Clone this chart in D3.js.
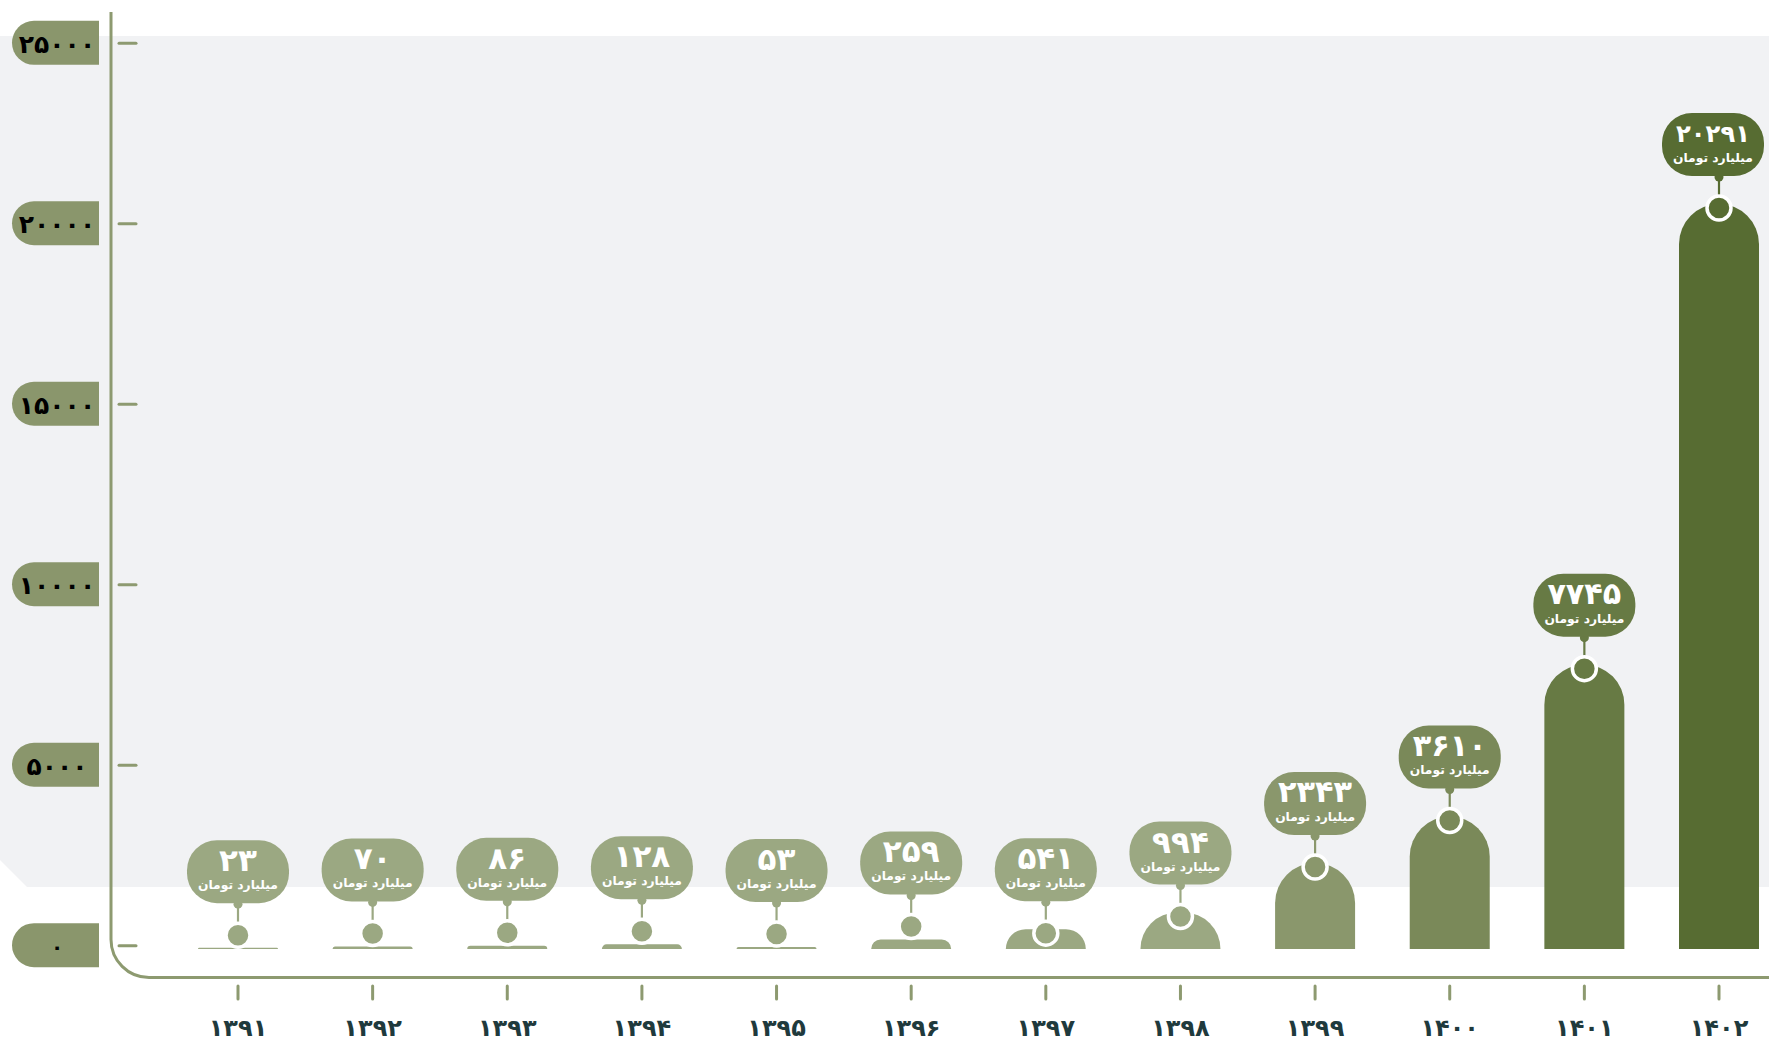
<!DOCTYPE html>
<html>
<head>
<meta charset="utf-8">
<script src="https://cdn.jsdelivr.net/npm/d3@7/dist/d3.min.js"></script>
<style>
  html, body { margin: 0; padding: 0; background: #ffffff; }
  svg { display: block; }
  text { font-family: 'DejaVu Sans', 'Noto Sans', sans-serif; font-weight: bold; }
</style>
</head>
<body>
<svg id="chart" width="1769" height="1041"></svg>
<script>
// ---- data ----
const years = [1391, 1392, 1393, 1394, 1395, 1396, 1397, 1398, 1399, 1400, 1401, 1402];
const values = [23, 70, 86, 128, 53, 259, 541, 994, 2343, 3610, 7745, 20291];
const barColors = ["#9ba882", "#9ba882", "#9ba882", "#9ba882", "#9ba882", "#9ba882",
                   "#9ba882", "#9ba882", "#8a976c", "#7a8959", "#677a44", "#576c32"];
const yTicks = [0, 5000, 10000, 15000, 20000, 25000];
const unitLabel = "میلیارد تومان";

const faDigits = "۰۱۲۳۴۵۶۷۸۹";
const toFa = n => String(n).replace(/[0-9]/g, d => faDigits[+d]);

const W = 1769, H = 1041;
const svg = d3.select("#chart");

const axisColor = "#8d9a70";
const axisX = 111, baseLineY = 977.5, cornerR = 38;

// scales
const x = d3.scalePoint().domain(years).range([238, 1719]);
const yAxis = d3.scaleLinear().domain([0, 25000]).range([945.7, 43.3]);
const yBar = d3.scaleLinear().domain([0, 20291]).range([949, 204]);
const barW = 80;

// background gray panel with chamfered lower-left corner
svg.append("path")
  .attr("d", `M0,36 H${W} V887 H27 L0,860 Z`)
  .attr("fill", "#f1f2f4");

// axis frame (vertical + rounded corner + horizontal)
svg.append("path")
  .attr("d", `M${axisX},12 V${baseLineY - cornerR} A${cornerR},${cornerR} 0 0 0 ${axisX + cornerR},${baseLineY} H${W}`)
  .attr("fill", "none")
  .attr("stroke", axisColor)
  .attr("stroke-width", 3);

// y ticks + pill labels
const yg = svg.append("g");
yTicks.forEach(t => {
  const yy = yAxis(t);
  yg.append("line")
    .attr("x1", 119).attr("x2", 136)
    .attr("y1", yy).attr("y2", yy)
    .attr("stroke", axisColor).attr("stroke-width", 3).attr("stroke-linecap", "round");
  const top = yy - 22.5, h = 44, r = 22, x0 = 12, x1 = 99;
  yg.append("path")
    .attr("d", `M${x1},${top} H${x0 + r} A${r},${r} 0 0 0 ${x0 + r},${top + h} H${x1} Z`)
    .attr("fill", "#8a966c");
  yg.append("text")
    .attr("x", 57).attr("y", yy + 1)
    .attr("text-anchor", "middle")
    .attr("dominant-baseline", "central")
    .attr("font-size", t === 0 ? 20 : 25)
    .attr("fill", "#000")
    .text(toFa(t));
});

// x ticks + year labels
years.forEach(yr => {
  const cx = x(yr);
  svg.append("line")
    .attr("x1", cx).attr("x2", cx).attr("y1", 986).attr("y2", 999)
    .attr("stroke", axisColor).attr("stroke-width", 3).attr("stroke-linecap", "round");
  svg.append("text")
    .attr("x", cx).attr("y", 1036)
    .attr("text-anchor", "middle")
    .attr("font-size", 24)
    .attr("fill", "#1f3a3d")
    .text(toFa(yr));
});

// bars
function barPath(cx, top, base, w) {
  const h = Math.max(base - top, 1.2);
  const t = base - h;
  const r = Math.min(w / 2, h);
  const x0 = cx - w / 2, x1 = cx + w / 2;
  return `M${x0},${base} V${t + r} A${r},${r} 0 0 1 ${x0 + r},${t} H${x1 - r} A${r},${r} 0 0 1 ${x1},${t + r} V${base} Z`;
}

// fit a text's font size so its natural width does not exceed maxW
function fitText(sel, size, maxW) {
  sel.attr("font-size", size);
  const len = sel.node().getComputedTextLength();
  if (len > maxW) sel.attr("font-size", size * maxW / len);
}

const gBars = svg.append("g");
years.forEach((yr, i) => {
  const v = values[i];
  const cx = x(yr);
  const top = yBar(v);
  const base = yBar(0);
  const h = base - top;
  const col = barColors[i];
  gBars.append("path")
    .attr("d", barPath(cx, top, base, barW))
    .attr("fill", col);

  const cy = h < 15 ? top - 13 : top + 4;
  const bw = 102, bh = 63;
  let bx = cx - bw / 2;
  bx = Math.min(bx, W - 5 - bw);
  const bTop = cy - 95;
  const bCx = bx + bw / 2;

  // connector
  gBars.append("line")
    .attr("x1", cx).attr("x2", cx)
    .attr("y1", bTop + bh).attr("y2", cy - 10)
    .attr("stroke", col).attr("stroke-width", 2.2);
  gBars.append("circle")
    .attr("cx", cx).attr("cy", bTop + bh + 1)
    .attr("r", 4.5).attr("fill", col);

  // marker circle
  gBars.append("circle")
    .attr("cx", cx).attr("cy", cy)
    .attr("r", 12)
    .attr("fill", col)
    .attr("stroke", "#ffffff")
    .attr("stroke-width", 3.5);

  // bubble
  gBars.append("rect")
    .attr("x", bx).attr("y", bTop)
    .attr("width", bw).attr("height", bh)
    .attr("rx", 30).attr("ry", 30)
    .attr("fill", col);
  const num = gBars.append("text")
    .attr("x", bCx).attr("y", bTop + 20)
    .attr("text-anchor", "middle")
    .attr("dominant-baseline", "central")
    .attr("fill", "#ffffff")
    .text(toFa(v));
  fitText(num, 31, 74);
  const sub = gBars.append("text")
    .attr("x", bCx).attr("y", bTop + 45)
    .attr("text-anchor", "middle")
    .attr("dominant-baseline", "central")
    .attr("fill", "#ffffff")
    .text(unitLabel);
  fitText(sub, 16, 80);
});
</script>
</body>
</html>
